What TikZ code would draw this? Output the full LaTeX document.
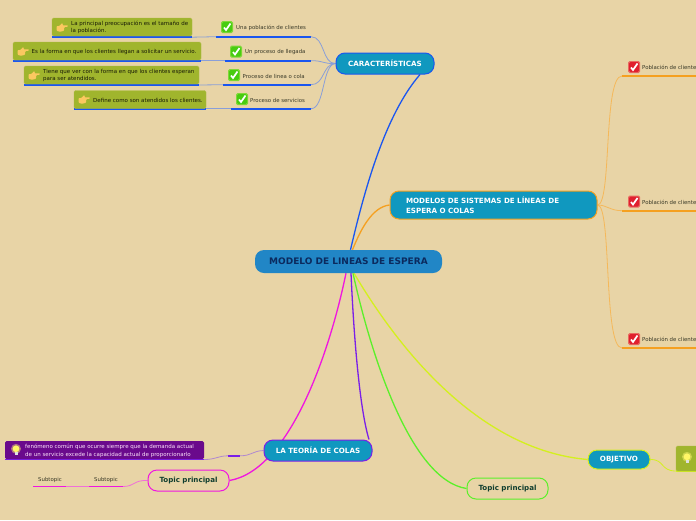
\documentclass[tikz,border=0pt]{standalone}
\usepackage{fontspec}
\setmainfont{DejaVu Sans}
\usetikzlibrary{calc}
\definecolor{paper}{HTML}{E8D4A6}
\definecolor{olive}{HTML}{A0B52D}
\definecolor{teal}{HTML}{1098BF}
\definecolor{rootblue}{HTML}{2186C6}
\definecolor{navy}{HTML}{0B2A5E}
\definecolor{cblue}{HTML}{1A56F0}
\definecolor{corange}{HTML}{F5A020}
\definecolor{cpink}{HTML}{F016E0}
\definecolor{cpurple}{HTML}{7A1FE8}
\definecolor{cgreen}{HTML}{5CF02A}
\definecolor{cyellow}{HTML}{D4F01E}
\definecolor{darkgreen}{HTML}{0F3D2E}
\definecolor{lblue}{HTML}{8A9FD8}
\definecolor{lorange}{HTML}{F5B85A}
\definecolor{lpink}{HTML}{F070D8}
\definecolor{lpurple}{HTML}{B088D0}
\definecolor{purplebox}{HTML}{6A0A8C}
\definecolor{inktext}{HTML}{3A3A28}
\definecolor{handcol}{HTML}{FBC860}
\definecolor{okgreen}{HTML}{48CC10}
\definecolor{okedge}{HTML}{7FD838}
\definecolor{nored}{HTML}{E0202E}
\definecolor{noedge}{HTML}{E86A60}
\pgfdeclarelayer{backdrop}
\pgfdeclarelayer{edges}
\pgfsetlayers{backdrop,edges,main}
\tikzset{
  x=1pt,y=-1pt,
  rootnode/.style={draw=none,fill=rootblue,rounded corners=9pt,minimum width=187pt,minimum height=23pt,inner sep=0pt,text=navy,font=\fontsize{9}{11}\selectfont\bfseries},
  mainnode/.style={draw=#1,line width=1pt,fill=teal,rounded corners=9pt,inner sep=0pt,text=white,font=\fontsize{7.15}{9.5}\selectfont\bfseries},
  topicnode/.style={draw=#1,line width=1pt,fill=paper,rounded corners=9pt,minimum width=81pt,minimum height=21pt,inner sep=0pt,text=darkgreen,font=\fontsize{7.1}{9}\selectfont\bfseries},
  olivebox/.style={fill=olive,draw=olive!80!paper,line width=.4pt,rounded corners=1.5pt,inner sep=0pt},
  olivetext/.style={anchor=west,inner sep=0pt,align=left,text=black!85!olive,font=\fontsize{5.5}{7.4}\selectfont},
  leaftext/.style={anchor=west,inner sep=0pt,text=inktext,font=\fontsize{5.4}{7}\selectfont},
  subtext/.style={inner sep=0pt,text=inktext,font=\fontsize{5.4}{7}\selectfont},
  purpletext/.style={anchor=west,inner sep=0pt,align=left,text=white!88!cpink,font=\fontsize{5.5}{7.4}\selectfont},
  under/.style={draw=#1,line width=1.6pt},
  bough/.style={draw=#1,line width=1.3pt},
  twig/.style={draw=#1,line width=.8pt},
  pics/checkicon/.style 2 args={code={
    \fill[#2,rounded corners=1.5pt] (-6,-6) rectangle (6,6);
    \fill[#1,rounded corners=1.5pt] (-5,-5) rectangle (5,5);
    \draw[white,line width=1.7pt] (-3,0.5) -- (-1,3) -- (3.5,-3.5);
  }},
  pics/handicon/.style={code={
    \fill[handcol,rounded corners=.8pt]
      (-5.5,-1.5) -- (-2.5,-1.5) -- (0,-4.5) -- (1,-3.5) -- (.5,-2) -- (6,-2.2) -- (6,-.8) -- (2.2,-.4)
      -- (2.2,3.2) -- (-2,4.3) -- (-5.5,3.2) -- cycle;
  }},
  pics/bulbicon/.style={code={
    \fill[yellow!55!white,opacity=.45] (0,-1.2) circle (5);
    \fill[yellow!60!white] (0,-1.2) circle (3.4);
    \fill[white!75!gray] (-1.5,2) rectangle (1.5,5.2);
  }},
}
\begin{document}
\begin{tikzpicture}
\useasboundingbox (0,0) rectangle (696,520);
\begin{pgfonlayer}{backdrop}
\fill[paper] (0,0) rectangle (696,520);
\end{pgfonlayer}

% main nodes
\node[rootnode] (root) at (348.5,261.5) {MODELO DE LINEAS DE ESPERA};
\node[mainnode=cblue,minimum width=98pt,minimum height=21pt] (carac) at (385,63.5) {CARACTERÍSTICAS};
\node[mainnode=corange,minimum width=207pt,minimum height=28pt,align=left,text width=175pt,inner xsep=16pt] (modelos) at (493.5,205) {MODELOS DE SISTEMAS DE LÍNEAS DE\\ESPERA O COLAS};
\node[mainnode=cpurple,minimum width=108pt,minimum height=21pt] (teoria) at (318,450.5) {LA TEORÍA DE COLAS};
\node[mainnode=cyellow,minimum width=62pt,minimum height=19pt] (objetivo) at (619,459.5) {OBJETIVO};
\node[topicnode=cpink] (topicp) at (188.5,480.5) {Topic principal};
\node[topicnode=cgreen] (topicg) at (507.5,488.5) {Topic principal};

% olive leaves
\node[olivebox,minimum width=140pt,minimum height=18pt] (b1) at (122,27) {};
\node[olivetext] (b1t) at (71,27.5) {La principal preocupación es el tamaño de\\la población.};
\pic at (62,27.5) {handicon};
\node[olivebox,minimum width=188pt,minimum height=18pt] (b2) at (107,51) {};
\node[olivetext] (b2t) at (31.5,52) {Es la forma en que los clientes llegan a solicitar un servicio.};
\pic at (23,51.5) {handicon};
\node[olivebox,minimum width=175pt,minimum height=18pt] (b3) at (111.5,75) {};
\node[olivetext] (b3t) at (43,75.5) {Tiene que ver con la forma en que los clientes esperan\\para ser atendidos.};
\pic at (34,75.5) {handicon};
\node[olivebox,minimum width=132pt,minimum height=18pt] (b4) at (140,99.5) {};
\node[olivetext] (b4t) at (93,100) {Define como son atendidos los clientes.};
\pic at (84,99.5) {handicon};

% leaves of CARACTERISTICAS
\pic at (227,27) {checkicon={okgreen}{okedge}};
\node[leaftext] (l1) at (236,28) {Una población de clientes};
\pic at (236,51.5) {checkicon={okgreen}{okedge}};
\node[leaftext] (l2) at (245,52) {Un proceso de llegada};
\pic at (234,75) {checkicon={okgreen}{okedge}};
\node[leaftext] (l3) at (242.5,76) {Proceso de linea o cola};
\pic at (242,99) {checkicon={okgreen}{okedge}};
\node[leaftext] (l4) at (250,100) {Proceso de servicios};

% leaves of MODELOS
\pic at (634,67) {checkicon={nored}{noedge}};
\node[leaftext] (m1) at (642,67.5) {Población de clientes};
\pic at (634,201.5) {checkicon={nored}{noedge}};
\node[leaftext] (m2) at (642,202) {Población de clientes};
\pic at (634,339) {checkicon={nored}{noedge}};
\node[leaftext] (m3) at (642,339.5) {Población de clientes};

% purple box, subtopics, right olive box
\node[fill=purplebox,rounded corners=1.5pt,inner sep=0pt,minimum width=199pt,minimum height=18pt] (pb) at (104.5,450) {};
\node[purpletext] (pbt) at (25,450.8) {fenómeno común que ocurre siempre que la demanda actual\\de un servicio excede la capacidad actual de proporcionarlo};
\pic at (16,450) {bulbicon};
\node[subtext] (s1) at (106,480) {Subtopic};
\node[subtext] (s2) at (50,480) {Subtopic};
\node[olivebox,minimum width=22pt,minimum height=25pt] (ob) at (687,458.5) {};
\pic at (687,458) {bulbicon};

% connector end points
\foreach \n/\x/\y in {
  u1a/52/37.2,u1b/192/37.2,u1c/216/36.7,u1d/311/36.7,
  u2a/13/60.7,u2b/201/60.7,u2c/225/60.7,u2d/311/60.7,
  u3a/24/85,u3b/199/85,u3c/223/84.7,u3d/311/84.7,
  u4a/74/108.7,u4b/206/108.7,u4c/231/108.7,u4d/311/108.7,
  r1a/622/76,r1b/696/76,r2a/622/210.7,r2b/696/210.7,r3a/622/348,r3b/696/348,
  pa/5/459.5,pb2/204/459.5,ta/228/455.8,tb/240/455.8,
  s1a/89/486.5,s1b/123/486.5,s2a/33/486.5,s2b/66/486.5,oa/676/471,ob2/696/471}
  {\coordinate (\n) at (\x,\y);}

\begin{pgfonlayer}{edges}
% boughs from the root
\path[bough=cblue] ([xshift=2pt]root.north) .. controls +(14,-60) and (385,115) .. ([xshift=35pt]carac.south);
\path[bough=corange] ([xshift=4pt]root.north) .. controls +(8,-20) and (372,207) .. (modelos.west);
\path[bough=cpink] ([xshift=-2.5pt]root.south) .. controls +(-16,78) and (290,470) .. (topicp.east);
\path[bough=cpurple] ([xshift=2.5pt]root.south) .. controls +(3,68) and (360,410) .. ([xshift=51pt]teoria.north);
\path[bough=cgreen] ([xshift=4.5pt]root.south) .. controls +(17,78) and (410,480) .. (topicg.west);
\path[bough=cyellow] ([xshift=5.5pt]root.south) .. controls +(46,78) and (480,450) .. (objetivo.west);
% twigs of CARACTERISTICAS
\foreach \u in {u1d,u2d,u3d,u4d}
  \path[twig=lblue] (carac.west) .. controls (322,64) and (325,0 |- \u) .. (\u);
\path[twig=lblue] (u1b) -- (u1c);
\path[twig=lblue] (u2b) -- (u2c);
\path[twig=lblue] (u3b) -- (u3c);
\path[twig=lblue] (u4b) -- (u4c);
% twigs of MODELOS
\path[twig=lorange] (modelos.east) .. controls (612,205) and (603,76) .. (r1a);
\path[twig=lorange] (modelos.east) .. controls (607,205) and (610,210.7) .. (r2a);
\path[twig=lorange] (modelos.east) .. controls (612,205) and (603,348) .. (r3a);
% twigs at the bottom
\path[twig=lpurple] (teoria.west) .. controls (252,451) and (252,455.8) .. (tb);
\path[twig=lpurple] (ta) .. controls (218,455.8) and (216,459.5) .. (pb2);
\path[twig=lpink] (topicp.west) .. controls (133,480) and (135,486.5) .. (s1b);
\path[twig=lpink] (s1a) -- (s2b);
\path[twig=cyellow] (objetivo.east) .. controls (665,459.5) and (660,471) .. (oa);
% underlines
\path[under=cblue] (u1a) -- (u1b); \path[under=cblue] (u1c) -- (u1d);
\path[under=cblue] (u2a) -- (u2b); \path[under=cblue] (u2c) -- (u2d);
\path[under=cblue] (u3a) -- (u3b); \path[under=cblue] (u3c) -- (u3d);
\path[under=cblue] (u4a) -- (u4b); \path[under=cblue] (u4c) -- (u4d);
\path[under=corange] (r1a) -- (r1b);
\path[under=corange] (r2a) -- (r2b);
\path[under=corange] (r3a) -- (r3b);
\path[under=cpurple] (pa) -- (pb2);
\path[under=cpurple] (ta) -- (tb);
\path[under=cpink] (s1a) -- (s1b);
\path[under=cpink] (s2a) -- (s2b);
\path[under=cyellow] (oa) -- (ob2);
\end{pgfonlayer}
\end{tikzpicture}
\end{document}
